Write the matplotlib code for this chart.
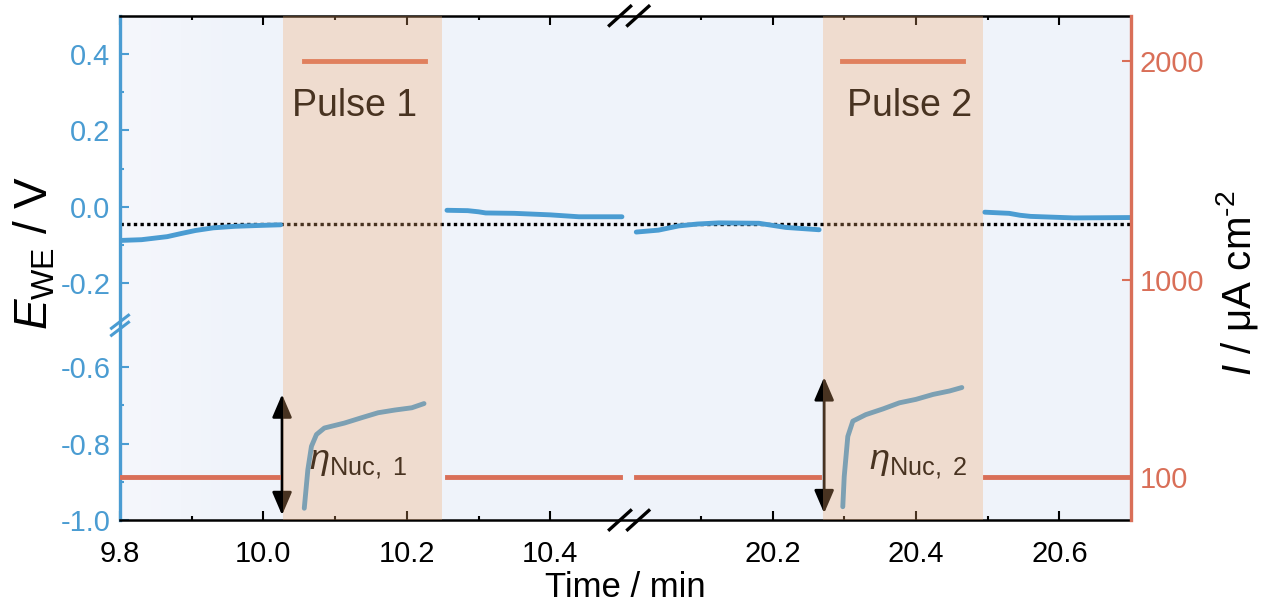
import numpy as np
import matplotlib
matplotlib.use("Agg")
import matplotlib.pyplot as plt

plt.rcParams["font.family"] = ["Liberation Sans", "DejaVu Sans"]
plt.rcParams["mathtext.fontset"] = "custom"
plt.rcParams["mathtext.rm"] = "Liberation Sans"
plt.rcParams["mathtext.it"] = "Liberation Sans:italic"
plt.rcParams["axes.unicode_minus"] = False

# --- data ---------------------------------------------------------------
# rest potential between pulses (time in min, E in V)
rest_t = [
    [9.800, 9.830, 9.866, 9.885, 9.905, 9.930, 9.960, 9.990, 10.024],
    [10.256, 10.285, 10.300, 10.310, 10.350, 10.400, 10.440, 10.500],
    [20.010, 20.041, 20.069, 20.095, 20.125, 20.181, 20.219, 20.265],
    [20.496, 20.530, 20.545, 20.560, 20.620, 20.700],
]
rest_E = [
    [-0.088, -0.086, -0.078, -0.070, -0.062, -0.055, -0.051, -0.049, -0.047],
    [-0.009, -0.010, -0.013, -0.016, -0.017, -0.021, -0.026, -0.026],
    [-0.066, -0.061, -0.050, -0.045, -0.042, -0.043, -0.054, -0.060],
    [-0.014, -0.017, -0.022, -0.025, -0.029, -0.028],
]

# potential during the nucleation pulses
pulse_t = [
    [10.057, 10.062, 10.067, 10.074, 10.085, 10.113, 10.137, 10.160, 10.183, 10.207, 10.224],
    [20.298, 20.300, 20.305, 20.312, 20.330, 20.354, 20.377, 20.400, 20.424, 20.447, 20.464],
]
pulse_E = [
    [-0.969, -0.868, -0.807, -0.776, -0.759, -0.746, -0.732, -0.719, -0.712, -0.706, -0.695],
    [-0.965, -0.886, -0.781, -0.741, -0.724, -0.709, -0.693, -0.684, -0.671, -0.662, -0.653],
]

# applied current density (µA cm-2), piecewise constant
current_start = [9.800, 10.057, 10.256, 20.010, 20.297, 20.497]
current_end = [10.020, 10.225, 10.498, 20.265, 20.465, 20.700]
current_value = [100, 2000, 100, 100, 2000, 100]

pulse_window_start = [10.028, 20.270]
pulse_window_end = [10.249, 20.493]
pulse_names = ["Pulse 1", "Pulse 2"]
pulse_label_t = [10.127, 20.391]

eta_names = [r"$\eta_{\mathrm{Nuc,\ 1}}$", r"$\eta_{\mathrm{Nuc,\ 2}}$"]
eta_label_t = [10.064, 20.335]
eta_arrow_t = [10.026, 20.272]
eta_arrow_top = [-0.671, -0.626]
eta_arrow_bottom = [-0.987, -0.982]

E_ref = -0.044

x_major = [9.8, 10.0, 10.2, 10.4, 20.2, 20.4, 20.6]
x_minor = [9.9, 10.1, 10.3, 20.1, 20.3, 20.5]
y_major = [0.4, 0.2, 0.0, -0.2, -0.6, -0.8, -1.0]
y_minor = [0.3, 0.1, -0.1, -0.7, -0.9]
i_major = [100, 1000, 2000]

# --- broken axes via function scales -------------------------------------
X_CUT_LO, X_CUT_HI = 10.51, 20.0
Y_CUT_HI, Y_CUT_LO = -0.31, -0.49


def x_fwd(t):
    t = np.asarray(t, dtype=float)
    return np.where(t > 15, t - (X_CUT_HI - X_CUT_LO), t)


def x_inv(u):
    u = np.asarray(u, dtype=float)
    return np.where(u > X_CUT_LO, u + (X_CUT_HI - X_CUT_LO), u)


def y_fwd(e):
    e = np.asarray(e, dtype=float)
    return np.where(e < -0.4, e + (Y_CUT_HI - Y_CUT_LO), e)


def y_inv(f):
    f = np.asarray(f, dtype=float)
    return np.where(f < Y_CUT_HI, f - (Y_CUT_HI - Y_CUT_LO), f)


blue = "#4A9CD2"
orange = "#D96F58"
band = "#F2AA6E"

fig = plt.figure(figsize=(12.67, 6.09), dpi=100)
ax = fig.add_axes([0.0947, 0.146, 0.7980, 0.828])
ax.set_xscale("function", functions=(x_fwd, x_inv))
ax.set_yscale("function", functions=(y_fwd, y_inv))
ax.set_xlim(9.8, 20.7)
ax.set_ylim(-1.0, 0.5)
ax.set_facecolor("#EFF3FA")

# lighter strip near the left edge of the background
grad = np.linspace(0, 1, 256).reshape(1, -1)
ax.imshow(grad, extent=[0, 0.12, 0, 1], transform=ax.transAxes, aspect="auto",
          cmap=matplotlib.colors.LinearSegmentedColormap.from_list(
              "bg", ["#F5F7FC", "#EFF3FA"]), zorder=0.5)

ax.axhline(E_ref, color="black", lw=2.4, ls=(0, (1, 1)), zorder=2)
for t, e in zip(rest_t, rest_E):
    ax.plot(t, e, color=blue, lw=3.5, solid_capstyle="round", zorder=3)
for t, e in zip(pulse_t, pulse_E):
    ax.plot(t, e, color=blue, lw=3.5, solid_capstyle="round", zorder=3)

for t, top, bot in zip(eta_arrow_t, eta_arrow_top, eta_arrow_bottom):
    ax.annotate("", xy=(t, bot), xytext=(t, top),
                arrowprops=dict(arrowstyle="<|-|>,head_length=0.7,head_width=0.3",
                                color="black", lw=2, mutation_scale=20,
                                shrinkA=0, shrinkB=0))
for name, t in zip(pulse_names, pulse_label_t):
    ax.text(t, 0.263, name, fontsize=27, ha="center", va="center")
for name, t in zip(eta_names, eta_label_t):
    ax.text(t, -0.868, name, fontsize=26, ha="left", va="baseline")

ax.set_xticks(x_major)
ax.set_xticklabels([f"{v:.1f}" for v in x_major])
ax.set_xticks(x_minor, minor=True)
ax.set_yticks(y_major)
ax.set_yticklabels([f"{v:.1f}" for v in y_major])
ax.set_yticks(y_minor, minor=True)
ax.tick_params(axis="x", which="both", direction="in", top=True, bottom=True,
               color="black", width=1.5, labelsize=21, pad=14)
ax.tick_params(axis="x", which="major", length=6.5)
ax.tick_params(axis="x", which="minor", length=3)
ax.tick_params(axis="y", which="both", direction="in", left=True, right=False,
               color=blue, labelcolor=blue, width=1.5, labelsize=21, pad=7)
ax.tick_params(axis="y", which="major", length=6.5)
ax.tick_params(axis="y", which="minor", length=3)

ax.spines["right"].set_visible(False)
ax.spines["left"].set_color(blue)
ax.spines["left"].set_linewidth(2.4)
for s in ("top", "bottom"):
    ax.spines[s].set_linewidth(1.8)

ax.set_xlabel("Time / min", fontsize=25)
ax.xaxis.set_label_coords(0.4995, -0.100)
ax.set_ylabel(r"$E_{\mathrm{WE}}$ / V", fontsize=33)
ax.yaxis.set_label_coords(-0.062, 0.53)

# right axis: current density
ax2 = ax.twinx()
ax2.set_ylim(-97, 2204)
for s, e, v in zip(current_start, current_end, current_value):
    ax2.plot([s, e], [v, v], color=orange, lw=3.5, zorder=2)
for s, e in zip(pulse_window_start, pulse_window_end):
    ax2.axvspan(s, e, color=band, alpha=0.3, lw=0, zorder=5)
ax2.set_yticks(i_major)
ax2.set_yticklabels([str(v) for v in i_major])
ax2.tick_params(axis="y", direction="in", color=orange, labelcolor=orange,
                width=1.5, length=6.5, labelsize=21, pad=6)
for s in ("left", "top", "bottom"):
    ax2.spines[s].set_visible(False)
ax2.spines["right"].set_color(orange)
ax2.spines["right"].set_linewidth(2.4)
ax2.set_ylabel(r"$I$ / μA cm$^{\text{-2}}$", fontsize=29)
ax2.yaxis.set_label_coords(1.082, 0.47)

# break marks
xb = (X_CUT_LO - 9.8) / (x_fwd(20.7) - 9.8)
for yy in (0.0, 1.0):
    for dx in (-0.009, 0.009):
        ax.plot([xb + dx - 0.0105, xb + dx + 0.0105], [yy - 0.019, yy + 0.019],
                transform=ax.transAxes, color="black", lw=2.4, clip_on=False, zorder=10)
yb = (y_fwd(Y_CUT_HI) - y_fwd(-1.0)) / (0.5 - y_fwd(-1.0))
for dy in (-0.007, 0.007):
    ax.plot([-0.0084, 0.0084], [yb + dy - 0.0129, yb + dy + 0.0129],
            transform=ax.transAxes, color=blue, lw=2.2, clip_on=False, zorder=10)

fig.savefig("out.png", dpi=100)
